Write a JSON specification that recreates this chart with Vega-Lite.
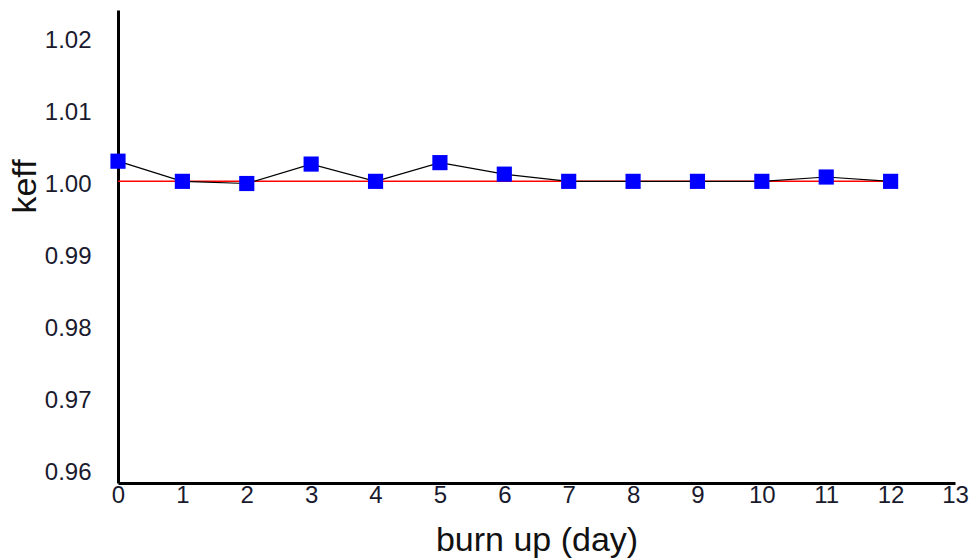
{
  "$schema": "https://vega.github.io/schema/vega-lite/v6.json",
  "width": 837,
  "height": 473,
  "autosize": {"type": "none"},
  "padding": {"left": 118, "top": 10, "right": 17, "bottom": 76},
  "background": "white",
  "config": {"view": {"stroke": null}, "font": "Liberation Sans"},
  "datasets": {
    "keff": [
      {"day": 0, "keff": 1.0028},
      {"day": 1, "keff": 1.0},
      {"day": 2, "keff": 0.9997},
      {"day": 3, "keff": 1.0024},
      {"day": 4, "keff": 1.0},
      {"day": 5, "keff": 1.0026},
      {"day": 6, "keff": 1.001},
      {"day": 7, "keff": 1.0},
      {"day": 8, "keff": 1.0},
      {"day": 9, "keff": 1.0},
      {"day": 10, "keff": 1.0},
      {"day": 11, "keff": 1.0006},
      {"day": 12, "keff": 1.0}
    ],
    "ref": [
      {"day": 0, "keff": 1.0},
      {"day": 12, "keff": 1.0}
    ]
  },
  "encoding": {
    "x": {
      "field": "day", "type": "quantitative",
      "scale": {"domain": [0, 13], "nice": false, "zero": false},
      "axis": {
        "title": "burn up (day)", "values": [0,1,2,3,4,5,6,7,8,9,10,11,12,13],
        "grid": false, "domainColor": "black", "domainWidth": 3, "tickSize": 0,
        "labelPadding": 0, "labelFontSize": 24, "labelColor": "#1a1a2e",
        "labelFont": "Liberation Sans", "labelFlush": false,
        "titleFontSize": 34, "titleFontWeight": "normal", "titleColor": "#111",
        "titlePadding": 16, "titleFont": "Liberation Sans"
      }
    },
    "y": {
      "field": "keff", "type": "quantitative",
      "scale": {"domain": [0.9581, 1.0238], "nice": false, "zero": false},
      "axis": {
        "title": "keff", "values": [0.96, 0.97, 0.98, 0.99, 1.0, 1.01, 1.02],
        "format": ".2f", "grid": false, "domainColor": "black", "domainWidth": 3,
        "tickSize": 0, "labelPadding": 27, "labelFontSize": 24, "labelColor": "#1a1a2e",
        "labelFont": "Liberation Sans", "labelOffset": 3,
        "titleFontSize": 34, "titleFontWeight": "normal", "titleColor": "#111",
        "titlePadding": 2, "titleFont": "Liberation Sans", "titleY": 176
      }
    }
  },
  "layer": [
    {
      "data": {"name": "ref"},
      "mark": {"type": "line", "color": "#ff0000", "strokeWidth": 1.5}
    },
    {
      "data": {"name": "keff"},
      "mark": {"type": "line", "color": "black", "strokeWidth": 1.2}
    },
    {
      "data": {"name": "keff"},
      "mark": {"type": "square", "color": "#0000ff", "filled": true, "opacity": 1, "size": 230}
    }
  ]
}
